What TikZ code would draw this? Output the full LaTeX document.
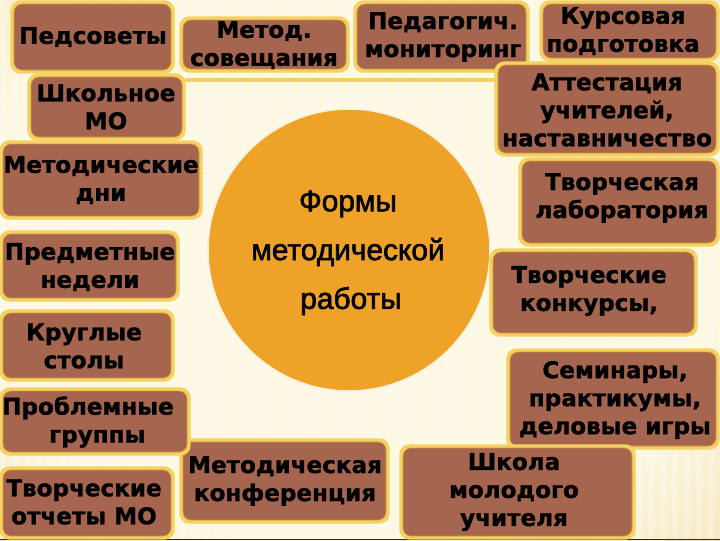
\documentclass[tikz,border=0pt]{standalone}
\usepackage{fontspec}
\setmainfont{DejaVu Sans}
\newfontfamily\circfont{Liberation Sans}
\definecolor{boxfill}{HTML}{A5654F}
\definecolor{boxedge}{HTML}{F4D163}
\definecolor{thinedge}{HTML}{D99A2B}
\definecolor{discfill}{HTML}{EFA228}
\definecolor{paper}{HTML}{FDF8E2}
\definecolor{paperedge}{HTML}{E6D08A}
\pgfdeclareradialshading{bgglow}{\pgfpoint{0bp}{0bp}}{color(0bp)=(paper); color(24bp)=(paper); color(50bp)=(paperedge)}
\tikzset{
  x=0.75pt,y=-0.75pt,
  glow/.style={draw=boxedge,line width=5.5pt,rounded corners=5pt},
  plate/.style={draw=thinedge,line width=0.5pt,fill=boxfill,rounded corners=6pt},
  cap1/.style={font=\bfseries\fontsize{17.3}{21}\selectfont\addfontfeature{FakeBold=1.2},align=center,inner sep=0pt,text=black},
  disctext/.style={font=\circfont\fontsize{22.4}{22.4}\selectfont\addfontfeature{FakeBold=2},inner sep=0pt,text=black},
}
\newcommand{\plt}[8]{%
  % name, x0,y0,x1,y1, text cx, text cy, text
  \path[glow] (#2,#3) rectangle (#4,#5);
  \path[plate] (#2,#3) rectangle (#4,#5);
  \node[cap1] (#1) at (#6,#7) {#8};
}
\begin{document}
\begin{tikzpicture}
\useasboundingbox (0,0) rectangle (720,540);
% paper
\begin{scope}
\clip (0,0) rectangle (720,540);
\shade[shading=bgglow] (-41,-60) rectangle (739,560);
\end{scope}
\foreach \i in {0,12,...,708}{\fill[white,opacity=.25] (\i,0) rectangle (\i+6,540);}
\draw[boxedge,line width=3.5pt] (185,80) -- (497,80) -- (497,152);
\draw[black!70!brown,line width=1pt] (0,539.5) -- (720,539.5);
% disc
\node[circle,fill=discfill,draw=white!85!discfill,line width=1.2pt,minimum size=211.5pt,inner sep=0pt] (disc) at (349,250) {};
\node[disctext] (t1) at (348,204) {Формы};
\node[disctext] (t2) at (348,252) {методической};
\node[disctext] (t3) at (351,301) {работы};
% plates
\plt{a1}{14}{4}{171}{70}{93}{37}{Педсоветы}
\plt{a2}{183}{20}{346}{69}{264}{45}{Метод.\\совещания}
\plt{a3}{357}{4}{526}{69}{443}{37}{Педагогич.\\мониторинг}
\plt{a4}{543}{4}{716}{58}{623}{31}{Курсовая\\подготовка}
\plt{a5}{498}{65}{716}{153}{607}{110}{Аттестация\\учителей,\\наставничество}
\plt{a6}{522}{161}{716}{243}{622}{198}{Творческая\\лаборатория}
\plt{a7}{493}{252}{694}{333}{589}{291}{Творческие\\конкурсы,}
\plt{a8}{510}{352}{716}{446}{615}{400}{Семинары,\\практикумы,\\деловые игры}
\plt{a9}{403}{448}{632}{536}{514}{492}{Школа\\молодого\\учителя}
\plt{a10}{183}{442}{386}{520}{285}{481}{Методическая\\конференция}
\plt{a11}{3}{470}{171}{536}{84}{502}{Творческие\\отчеты МО}
\plt{a12}{3}{391}{187}{452}{88}{422}{Проблемные\\\hspace*{14pt}группы}
\plt{a13}{3}{313}{171}{378}{84}{346}{Круглые\\столы}
\plt{a14}{3}{234}{176}{298}{90}{267}{Предметные\\недели}
\plt{a15}{3}{144}{199}{216}{101}{180}{Методические\\дни}
\plt{a16}{31}{77}{182}{137}{106}{107}{Школьное\\МО}
\end{tikzpicture}
\end{document}
